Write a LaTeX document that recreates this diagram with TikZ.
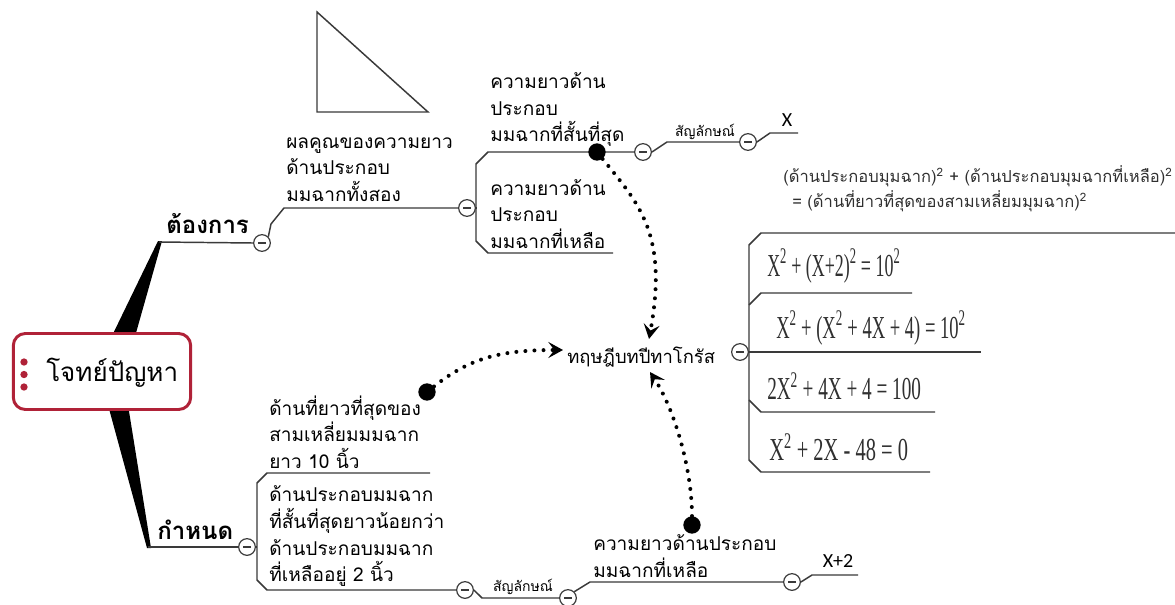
\documentclass[tikz,border=0pt]{standalone}
\usepackage{fontspec}
\usepackage{graphicx}
\usetikzlibrary{arrows.meta,calc}
\newfontfamily\thf[Script=Thai]{Loma}
\newfontfamily\latf{Carlito}
\newfontfamily\serf{Liberation Serif}
\definecolor{lin}{HTML}{3A3A3A}
\definecolor{maroonc}{HTML}{B02238}
\definecolor{eqc}{HTML}{303030}
\begin{document}
\begin{tikzpicture}[x=0.75pt,y=-0.75pt,
  br/.style={draw=lin,line width=1.1pt},
  tog/.style={circle,draw=lin,fill=white,line width=0.9pt,minimum size=12.5pt,inner sep=0pt,
    path picture={\draw[line width=1.3pt,lin]([xshift=-3pt]path picture bounding box.center)--([xshift=3pt]path picture bounding box.center);}},
  thtxt/.style={font=\thf\fontsize{14.3}{20}\selectfont,align=left,inner sep=0pt,text=black},
  smalltxt/.style={font=\thf\fontsize{10.5}{12}\selectfont,inner sep=0pt,text=black},
  headtxt/.style={font=\thf\bfseries\fontsize{18}{20}\selectfont,inner sep=0pt,text=black},
  eqtxt/.style={font=\serf\fontsize{24}{26}\selectfont,inner sep=0pt,text=eqc,anchor=west},
  formtxt/.style={font=\thf\fontsize{12.4}{14}\selectfont,inner sep=0pt,text=eqc,anchor=west},
  bigdot/.style={circle,fill=black,minimum size=13pt,inner sep=0pt},
  reddot/.style={circle,fill=maroonc,minimum size=5.5pt,inner sep=0pt},
  dotarr/.style={line width=3pt,line cap=round,dash pattern=on 0pt off 6.8pt,
    -{Stealth[length=11pt,width=12pt,inset=4.5pt]}},
  rootbox/.style={draw=maroonc,line width=2.2pt,rounded corners=9pt,fill=white,
    minimum width=133pt,minimum height=57pt}
]
\useasboundingbox (0,0) rectangle (1175,604);
\fill[white] (0,0) rectangle (1175,604);

% triangle
\draw[line width=1.1pt,lin] (317,12) -- (317,112) -- (428,112) -- cycle;

% wedges
\fill[black] (110,340) -- (134,340) -- (162,241) -- (158,241) -- cycle;
\fill[black] (108,405) -- (128,405) -- (151,548) -- (147,548) -- cycle;

% root
\node[rootbox] (root) at (102,371.5) {};
\node[reddot] (rd1) at (24,362) {};
\node[reddot] (rd2) at (24,374.5) {};
\node[reddot] (rd3) at (24,387) {};
\node[font=\thf\fontsize{19.5}{22}\selectfont,anchor=west,inner sep=0pt] (roottxt) at (46,373) {โจทย์ปัญหา};

% toggles
\node[tog] (c1) at (262,243) {};
\node[tog] (c2) at (467,208) {};
\node[tog] (c3) at (643,152) {};
\node[tog] (c4) at (748,142) {};
\node[tog] (c5) at (740,352) {};
\node[tog] (c6) at (247,547) {};
\node[tog] (c7) at (465,590) {};
\node[tog] (c8) at (568,598) {};
\node[tog] (c9) at (792,582) {};

% heads
\node[headtxt,anchor=south west] (want) at (166,234) {ต้องการ};
\node[headtxt,anchor=south west] (given) at (157,540) {กำหนด};
\coordinate (wtip) at (159,242);
\coordinate (gtip) at (148,547);
\draw[br] (wtip) -- (c1.west);
\draw[br] (gtip) -- (c6.west);

% upper branch
\node[thtxt,anchor=south west] (t1) at (286,202) {ผลคูณของความยาว\\ด้านประกอบ\\มมฉากทั้งสอง};
\coordinate (k1) at (271,224);
\coordinate (k2) at (284,208);
\draw[br] (c1.north east) -- (k1) -- (k2) -- (c2.west);

\coordinate (b1) at (488,152);
\coordinate (b2) at (476,164);
\coordinate (b3) at (476,241);
\coordinate (b4) at (488,253);
\coordinate (b5) at (613,253);
\coordinate (b6) at (476,208);
\draw[br] (c2.east) -- (b6);
\draw[br] (c3.west) -- (b1) -- (b2) -- (b3) -- (b4) -- (b5);
\node[thtxt,anchor=south west] (t2) at (490,147) {ความยาวด้าน\\ประกอบ\\มมฉากที่สั้นที่สุด};
\node[thtxt,anchor=south west] (t3) at (490,249) {ความยาวด้าน\\ประกอบ\\มมฉากที่เหลือ};

\coordinate (s1) at (667,142);
\draw[br] (c3.east) -- (s1) -- (c4.west);
\node[smalltxt] (sym1) at (705,132) {สัญลักษณ์};
\coordinate (x1) at (770,133);
\coordinate (x2) at (798,133);
\draw[br] (c4.east) -- (x1) -- (x2);
\node[font=\latf\fontsize{15}{16}\selectfont,inner sep=0pt] (xlab) at (787,120) {X};

% Pythagoras
\node[font=\thf\fontsize{13.8}{15}\selectfont,anchor=west,inner sep=0pt] (pyth) at (567,357) {ทฤษฎีบทปีทาโกรัส};
\coordinate (r0) at (1175,233);
\coordinate (r1) at (761,233);
\coordinate (r2) at (749,245);
\coordinate (r3) at (749,460);
\coordinate (r4) at (761,472);
\coordinate (r5) at (930,472);
\draw[br] (r0) -- (r1) -- (r2) -- (r3) -- (r4) -- (r5);
\coordinate (e1a) at (749,305);
\coordinate (e1b) at (761,293);
\coordinate (e1c) at (912,293);
\draw[br] (e1a) -- (e1b) -- (e1c);
\coordinate (e2c) at (981,352);
\draw[br] (c5.east) -- (e2c);
\coordinate (e3a) at (749,400);
\coordinate (e3b) at (761,412);
\coordinate (e3c) at (935,412);
\draw[br] (e3a) -- (e3b) -- (e3c);

\node[formtxt] (f1) at (783,176) {(ด้านประกอบมุมฉาก)\textsuperscript{2} + (ด้านประกอบมุมฉากที่เหลือ)\textsuperscript{2}};
\node[formtxt] (f2) at (792,201) {= (ด้านที่ยาวที่สุดของสามเหลี่ยมมุมฉาก)\textsuperscript{2}};

\node[eqtxt] (eq1) at (767,266) {\scalebox{0.56}[1]{X\textsuperscript{2} + (X+2)\textsuperscript{2} = 10\textsuperscript{2}}};
\node[eqtxt] (eq2) at (776,328) {\scalebox{0.58}[1]{X\textsuperscript{2} + (X\textsuperscript{2} + 4X + 4) = 10\textsuperscript{2}}};
\node[eqtxt] (eq3) at (767,386) {\scalebox{0.6}[1]{2X\textsuperscript{2} + 4X + 4 = 100}};
\node[eqtxt] (eq4) at (769,447) {\scalebox{0.64}[1]{X\textsuperscript{2} + 2X - 48 = 0}};

% lower branch
\coordinate (g1) at (430,473);
\coordinate (g2) at (267,473);
\coordinate (g3) at (257,483);
\coordinate (g4) at (257,580);
\coordinate (g5) at (267,590);
\coordinate (g6) at (257,547);
\draw[br] (c6.east) -- (g6);
\draw[br] (g1) -- (g2) -- (g3) -- (g4) -- (g5) -- (c7.west);
\node[thtxt,anchor=south west] (t7) at (269,469) {ด้านที่ยาวที่สุดของ\\สามเหลี่ยมมมฉาก\\ยาว 10 นิ้ว};
\node[thtxt,anchor=south west] (t8) at (269,587) {ด้านประกอบมมฉาก\\ที่สั้นที่สุดยาวน้อยกว่า\\ด้านประกอบมมฉาก\\ที่เหลืออยู่ 2 นิ้ว};

\coordinate (h1) at (482,598);
\draw[br] (c7.east) -- (h1) -- (c8.west);
\node[smalltxt] (sym2) at (523,587) {สัญลักษณ์};
\coordinate (h2) at (590,582);
\draw[br] (c8.north east) -- (h2) -- (c9.west);
\node[thtxt,anchor=south west] (t9) at (593,578) {ความยาวด้านประกอบ\\มมฉากที่เหลือ};
\coordinate (h3) at (812,575);
\coordinate (h4) at (858,575);
\draw[br] (c9.east) -- (h3) -- (h4);
\node[font=\latf\fontsize{15}{16}\selectfont,inner sep=0pt] (x2lab) at (838,561) {X+2};

% dots and dotted arrows
\node[bigdot] (d1) at (597,152) {};
\node[bigdot] (d2) at (427,392) {};
\node[bigdot] (d3) at (692,525) {};
\coordinate (a1) at (649,339);
\coordinate (a2) at (563,350);
\coordinate (a3) at (650,372);
\draw[dotarr] (d1) .. controls (640,205) and (668,235) .. (a1);
\draw[dotarr] (d2) .. controls (470,358) and (500,350) .. (a2);
\draw[dotarr] (d3) .. controls (692,470) and (675,410) .. (a3);
\end{tikzpicture}
\end{document}
